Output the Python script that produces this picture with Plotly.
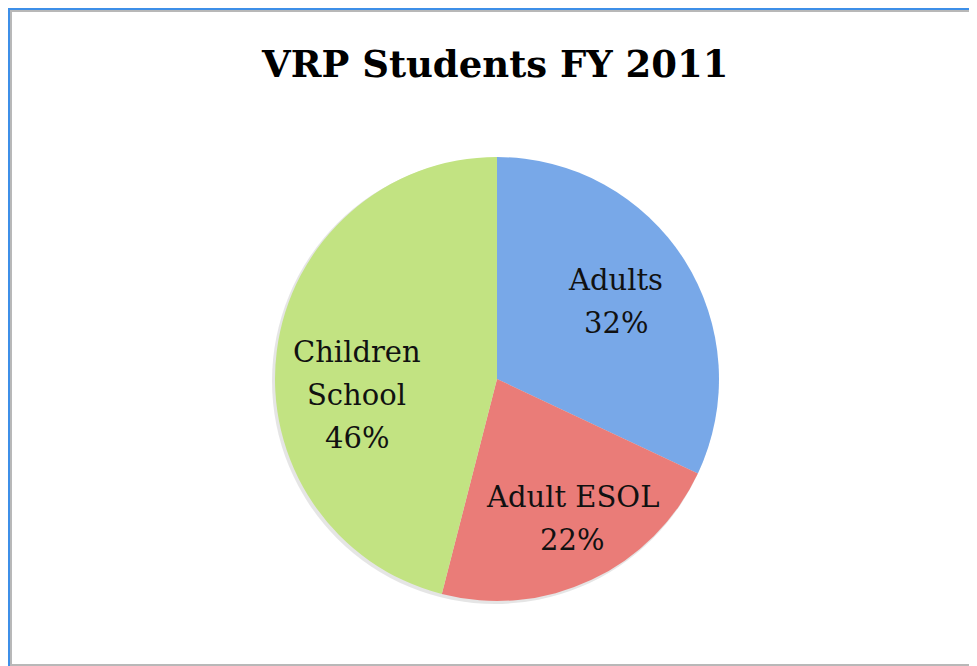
import math
import plotly.graph_objects as go

# ---- data ----
categories = ["Adults", "Adult ESOL", "Children\nSchool"]
values = [32, 22, 46]
colors = ["#78a8e8", "#ea7c78", "#c2e382"]
title_text = "VRP Students FY 2011"

W, H = 977, 666
OFF = 8  # page body margin offset
CX, CY, R = 497, 379, 222
label_radius = [0.64, 0.715, 0.635]
label_angle_shift = [-0.8, -3.0, -13.7]  # degrees
LINE_H = 43
FONT = "DejaVu Serif"

def px_x(x):
    return (x - OFF) / W

def px_y(y):
    return 1 - (y - OFF) / H

fig = go.Figure()

# soft shadow
fig.add_trace(go.Pie(
    values=[sum(values)],
    marker=dict(colors=["rgba(0,0,0,0.10)"], line=dict(width=0)),
    textinfo="none", hoverinfo="skip", showlegend=False, sort=False,
    domain=dict(x=[px_x(CX - R - 3), px_x(CX + R - 1)], y=[px_y(CY + R + 3), px_y(CY - R + 1)]),
))

fig.add_trace(go.Pie(
    labels=[c.replace("\n", " ") for c in categories],
    values=values,
    sort=False,
    direction="clockwise",
    rotation=0,
    marker=dict(colors=colors, line=dict(width=0)),
    textinfo="none",
    hoverinfo="label+percent",
    showlegend=False,
    domain=dict(x=[px_x(CX - R), px_x(CX + R)], y=[px_y(CY + R), px_y(CY - R)]),
))

# labels placed from slice mid angles
total = sum(values)
cum = 0
annotations = []
for cat, v, rf, sh in zip(categories, values, label_radius, label_angle_shift):
    mid = (cum + v / 2) / total * 2 * math.pi + math.radians(sh)
    cum += v
    lx = CX + rf * R * math.sin(mid)
    ly = CY - rf * R * math.cos(mid)
    pct = f"{round(v / total * 100)}%"
    lines = cat.split("\n") + [pct]
    n = len(lines)
    for i, line in enumerate(lines):
        off = (i - (n - 1) / 2) * LINE_H
        annotations.append(dict(
            x=px_x(lx), y=px_y(ly + off), xref="paper", yref="paper",
            text=line, showarrow=False, xanchor="center", yanchor="middle",
            font=dict(family=FONT, size=29, color="#111111"),
        ))

annotations.append(dict(
    x=px_x(495), y=px_y(64), xref="paper", yref="paper",
    text="<b>" + title_text + "</b>", showarrow=False,
    xanchor="center", yanchor="middle",
    font=dict(family=FONT, size=37, color="#000000"),
))

shapes = [
    dict(type="rect", xref="paper", yref="paper", x0=0, x1=1.01, y0=-0.01, y1=1.01,
         fillcolor="#3d8fe8", line=dict(width=0), layer="below"),
    dict(type="rect", xref="paper", yref="paper", x0=px_x(10), x1=1.01, y0=-0.01, y1=px_y(10),
         fillcolor="#b8b8b8", line=dict(width=0), layer="below"),
    dict(type="rect", xref="paper", yref="paper", x0=px_x(12), x1=1.01, y0=px_y(664), y1=px_y(12),
         fillcolor="#ffffff", line=dict(width=0), layer="below"),
]

fig.update_layout(
    width=W, height=H,
    margin=dict(l=0, r=0, t=0, b=0),
    paper_bgcolor="#ffffff",
    plot_bgcolor="#ffffff",
    annotations=annotations,
    shapes=shapes,
)

fig.write_html("out.html")
